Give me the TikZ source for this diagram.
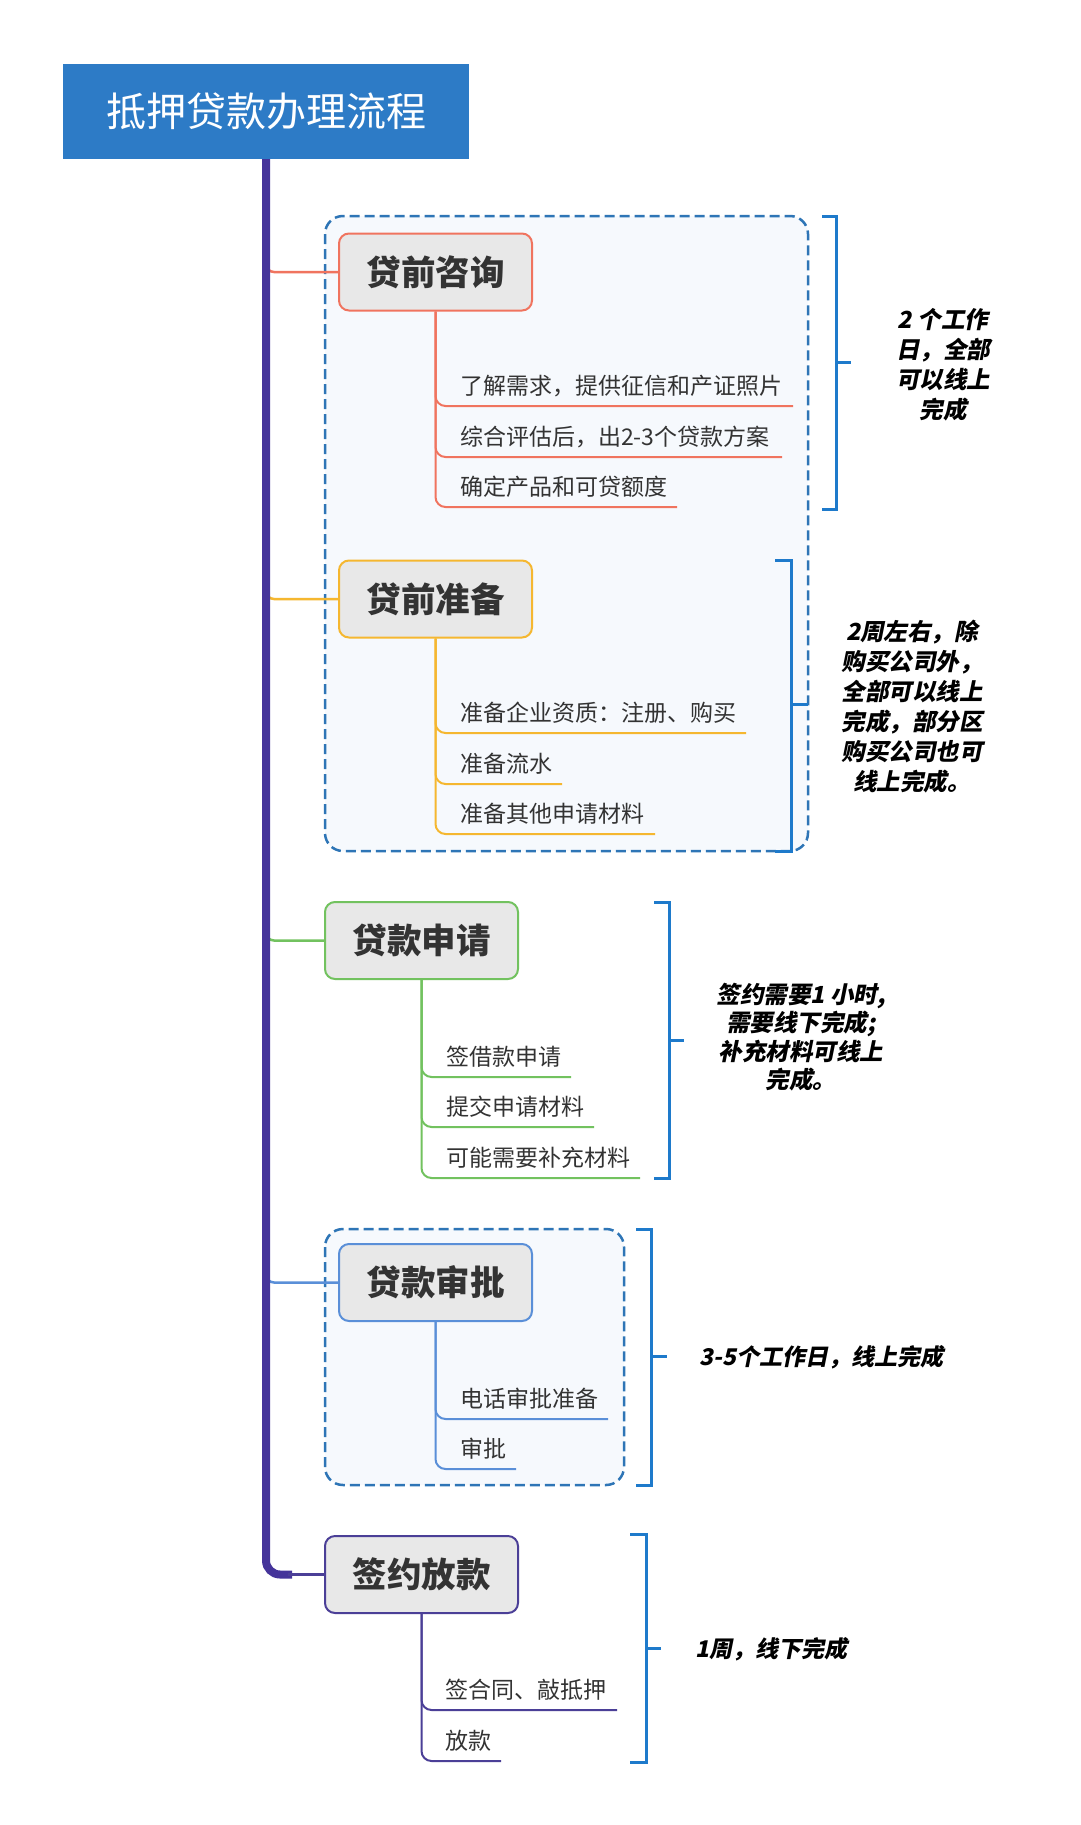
\documentclass[tikz,border=0pt]{standalone}
\usepackage{fontspec}
\newfontfamily\cjk{Noto Sans CJK SC}
\newfontfamily\cjksl{Noto Sans CJK SC}[FakeSlant=0.2]
\definecolor{titleblue}{HTML}{2D7BC6}
\definecolor{trunkc}{HTML}{45349A}
\definecolor{salmon}{HTML}{F0745F}
\definecolor{orangec}{HTML}{F5B730}
\definecolor{greenc}{HTML}{72C25F}
\definecolor{bluec}{HTML}{5A8FD8}
\definecolor{purplec}{HTML}{4B3F97}
\definecolor{nodefill}{HTML}{E8E8E8}
\definecolor{dashc}{HTML}{2E75B6}
\definecolor{dashfill}{HTML}{F6F9FD}
\definecolor{brk}{HTML}{1E7ACB}
\definecolor{textdark}{HTML}{333333}
\begin{document}
\begin{tikzpicture}[x=1pt,y=-1pt,
  topic/.style={draw, line width=2pt, fill=nodefill, rounded corners=10pt, minimum width=193pt, minimum height=77pt, inner sep=0pt, font=\cjk\bfseries\fontsize{34.5}{40}\selectfont, text=textdark},
  item/.style={anchor=west, inner sep=0pt, font=\cjk\fontsize{23}{28}\selectfont, text=textdark},
  note/.style={align=center, inner sep=0pt, font=\cjksl\bfseries\fontsize{23.5}{30}\selectfont, text=black},
  sub/.style={line width=2pt, rounded corners=10pt},
  branch/.style={line width=2.5pt, rounded corners=8pt},
  bracket/.style={draw=brk, line width=3pt},
  container/.style={draw=dashc, fill=dashfill, line width=2.5pt, dash pattern=on 10pt off 5pt, rounded corners=18pt}]
\useasboundingbox[fill=white] (0,0) rectangle (1080,1825);

% containers
\draw[container] (325,216) rectangle (808,851);
\draw[container] (325,1229) rectangle (624,1485);

% title
\node[fill=titleblue, minimum width=406pt, minimum height=95pt, inner sep=0pt, text=white, font=\cjk\fontsize{40}{48}\selectfont] (title) at (266,111.5) {抵押贷款办理流程};

% topics
\node[topic, draw=salmon] (n1) at (435.5,272) {贷前咨询};
\node[topic, draw=orangec] (n2) at (435.5,599) {贷前准备};
\node[topic, draw=greenc] (n3) at (421.5,940.5) {贷款申请};
\node[topic, draw=bluec] (n4) at (435.5,1282.5) {贷款审批};
\node[topic, draw=purplec] (n5) at (421.5,1574.5) {签约放款};

% branches
\draw[branch, salmon] (266,260) |- (n1.west);
\draw[branch, orangec] (266,587) |- (n2.west);
\draw[branch, greenc] (266,928) |- (n3.west);
\draw[branch, bluec] (266,1270) |- (n4.west);

% trunk
\draw[trunkc, line width=8pt, rounded corners=14pt] (title.south) -- (266,1574.5) -- (292,1574.5);
\draw[purplec, line width=3.5pt] (288,1574.5) -- (n5.west);

% items of n1
\coordinate (e11) at (793,406);
\coordinate (e12) at (782,457);
\coordinate (e13) at (677,507);
\draw[sub, salmon] (n1.south) |- (e11);
\draw[sub, salmon] (n1.south) |- (e12);
\draw[sub, salmon] (n1.south) |- (e13);
\node[item] (i11) at (460,386) {了解需求，提供征信和产证照片};
\node[item] (i12) at (460,437) {综合评估后，出2-3个贷款方案};
\node[item] (i13) at (460,487) {确定产品和可贷额度};

% items of n2
\coordinate (e21) at (746,733);
\coordinate (e22) at (562,784);
\coordinate (e23) at (655,834);
\draw[sub, orangec] (n2.south) |- (e21);
\draw[sub, orangec] (n2.south) |- (e22);
\draw[sub, orangec] (n2.south) |- (e23);
\node[item] (i21) at (460,713) {准备企业资质：注册、购买};
\node[item] (i22) at (460,764) {准备流水};
\node[item] (i23) at (460,814) {准备其他申请材料};

% items of n3
\coordinate (e31) at (571,1077);
\coordinate (e32) at (594,1127);
\coordinate (e33) at (640,1178);
\draw[sub, greenc] (n3.south) |- (e31);
\draw[sub, greenc] (n3.south) |- (e32);
\draw[sub, greenc] (n3.south) |- (e33);
\node[item] (i31) at (446,1057) {签借款申请};
\node[item] (i32) at (446,1107) {提交申请材料};
\node[item] (i33) at (446,1158) {可能需要补充材料};

% items of n4
\coordinate (e41) at (608,1419);
\coordinate (e42) at (516,1469);
\draw[sub, bluec] (n4.south) |- (e41);
\draw[sub, bluec] (n4.south) |- (e42);
\node[item] (i41) at (460,1399) {电话审批准备};
\node[item] (i42) at (460,1449) {审批};

% items of n5
\coordinate (e51) at (617,1710);
\coordinate (e52) at (501,1761);
\draw[sub, purplec] (n5.south) |- (e51);
\draw[sub, purplec] (n5.south) |- (e52);
\node[item] (i51) at (445,1690) {签合同、敲抵押};
\node[item] (i52) at (445,1741) {放款};

% brackets
\draw[bracket] (822,216) -- (836,216) -- (836,509) -- (822,509);
\draw[bracket] (836,362) -- (851,362);
\draw[bracket] (775,560) -- (791,560) -- (791,851) -- (775,851);
\draw[bracket] (791,704) -- (808,704);
\draw[bracket] (654,902) -- (669,902) -- (669,1178) -- (654,1178);
\draw[bracket] (669,1040) -- (684,1040);
\draw[bracket] (636,1229) -- (651,1229) -- (651,1485) -- (636,1485);
\draw[bracket] (651,1356) -- (667,1356);
\draw[bracket] (630,1534) -- (646,1534) -- (646,1762) -- (630,1762);
\draw[bracket] (646,1648) -- (661,1648);

% notes
\node[note] (s1) at (943,365) {2 个工作\\日，全部\\可以线上\\完成};
\node[note] (s2) at (912,707) {2周左右，除\\购买公司外，\\全部可以线上\\完成，部分区\\购买公司也可\\线上完成。};
\node[note, font=\cjksl\bfseries\fontsize{23.5}{28.5}\selectfont] (s3) at (801,1037) {签约需要1 小时,\\需要线下完成;\\补充材料可线上\\完成。};
\node[note, anchor=west, font=\cjksl\bfseries\fontsize{23}{28}\selectfont] (s4) at (699,1357) {3-5个工作日，线上完成};
\node[note, anchor=west, font=\cjksl\bfseries\fontsize{23}{28}\selectfont] (s5) at (695,1649) {1周，线下完成};
\end{tikzpicture}
\end{document}
